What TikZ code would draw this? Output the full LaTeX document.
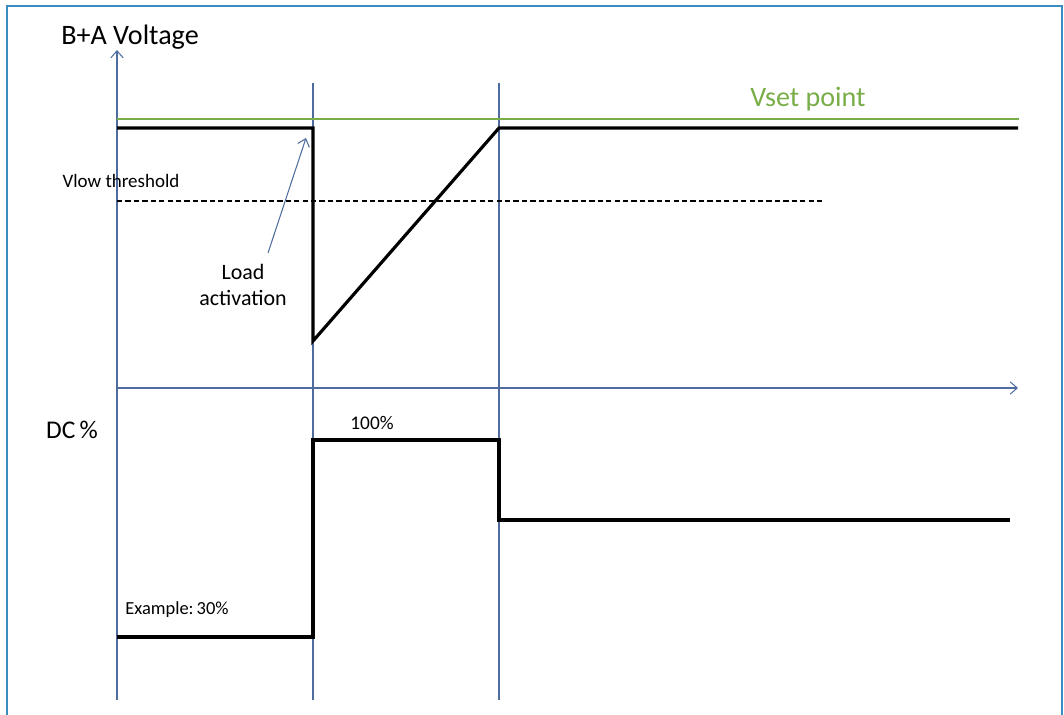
\documentclass[tikz,border=0pt]{standalone}
\usepackage{fontspec}
\setmainfont{Carlito}
\usepackage{tikz}
\usetikzlibrary{arrows.meta}
\definecolor{axisblue}{HTML}{4F6C9E}
\definecolor{frameblue}{HTML}{3A8DBF}
\definecolor{vsetgreen}{HTML}{78AD48}
\tikzset{axis/.style={draw=axisblue, line width=0.6pt, -{Straight Barb[length=4pt, width=7pt]}},
  marker/.style={draw=axisblue, line width=0.6pt},
  trace/.style={draw=black, line width=1.8pt, line join=miter},
  big/.style={inner sep=0pt, font=\fontsize{16}{19}\selectfont},
  small/.style={inner sep=0pt, font=\fontsize{10.5}{15}\selectfont}}

\begin{document}
\begin{tikzpicture}[x=0.02cm, y=-0.02cm]
      \useasboundingbox (0,0) rectangle (1064,715);
      \draw [frameblue, line width=0.9pt] (7,715) -- (7,6) -- (1062,6) -- (1062,715);
      % axes and time markers
      \draw [axis] (117,700) -- (117,50);
      \draw [axis] (117,388) -- (1018,388);
      \draw [marker] (313,83) -- (313,700);
      \draw [marker] (499,83) -- (499,700);
      \draw [vsetgreen, line width=0.6pt] (117,119) -- (1019,119);
      \draw [black, line width=0.8pt, dash pattern=on 3pt off 1.8pt] (117,201) -- (822,201);
      % voltage trace
      \coordinate (v0) at (117,128);
      \coordinate (v1) at (313,128);
      \coordinate (v2) at (313,341);
      \coordinate (v3) at (499,128);
      \coordinate (v4) at (1018,128);
      \draw [trace] (v0) -- (v1) -- (v2) -- (v3) -- (v4);
      % duty cycle trace
      \coordinate (d0) at (117,637);
      \coordinate (d1) at (313,637);
      \coordinate (d2) at (313,440);
      \coordinate (d3) at (499,440);
      \coordinate (d4) at (499,520);
      \coordinate (d5) at (1010,520);
      \draw [trace] (d0) -- (d1) -- (d2) -- (d3) -- (d4) -- (d5);
      % labels
      \node [big] (volt) at (130,37) {B+A Voltage};
      \node [big, text=vsetgreen] (vset) at (808,99) {Vset point};
      \node [small, font=\fontsize{10.8}{12}\selectfont] (vlow) at (121,181) {Vlow threshold};
      \node [small, font=\fontsize{12.5}{15.3}\selectfont, align=center] (load) at (243,285) {Load\\activation};
      \node [big, font=\fontsize{14.5}{17}\selectfont] (dc) at (72,430) {DC\,\%};
      \node [small, font=\fontsize{11}{13}\selectfont] (full) at (372,423) {100\%};
      \node [small] (example) at (177,610) {Example:\,30\%};
      \coordinate (loadtail) at (268,253);
      \coordinate (droptop) at (306,138);
      \draw [axis] (loadtail) -- (droptop);
    \end{tikzpicture}
\end{document}
